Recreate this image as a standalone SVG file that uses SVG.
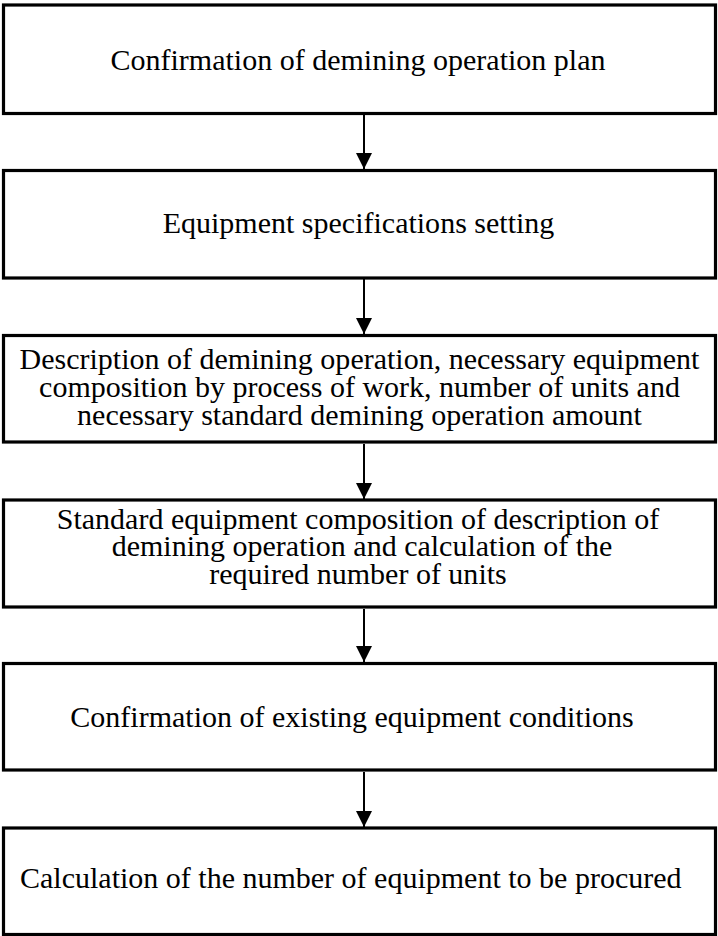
<svg xmlns="http://www.w3.org/2000/svg" width="718" height="936" viewBox="0 0 718 936">
<defs>
<marker id="ah" markerWidth="16" markerHeight="16" viewBox="0 0 16 16" refX="16" refY="8" orient="auto" markerUnits="userSpaceOnUse">
<path d="M0,0 L16,8 L0,16 Z" fill="#000"/>
</marker>
<style>
.box{fill:#fff;stroke:#000;stroke-width:3.2}
.t{font-family:"Liberation Serif","Times New Roman",serif;font-size:29px;fill:#000;text-anchor:middle}
.c{stroke:#000;stroke-width:2;fill:none}
</style>
</defs>
<rect width="718" height="936" fill="#fff"/>
<g id="connectors">
<line class="c" x1="364" y1="115" x2="364" y2="169" marker-end="url(#ah)"/>
<line class="c" x1="364" y1="279" x2="364" y2="334" marker-end="url(#ah)"/>
<line class="c" x1="364" y1="444" x2="364" y2="499" marker-end="url(#ah)"/>
<line class="c" x1="364" y1="609" x2="364" y2="662" marker-end="url(#ah)"/>
<line class="c" x1="364" y1="772" x2="364" y2="827" marker-end="url(#ah)"/>
</g>
<g id="n1">
<rect class="box" x="3.5" y="5" width="712" height="108.5"/>
<text class="t" transform="translate(358,70) scale(1.035,1)" x="0" y="0">Confirmation of demining operation plan</text>
</g>
<g id="n2">
<rect class="box" x="3.5" y="170.5" width="712" height="107.5"/>
<text class="t" transform="translate(358.5,233) scale(1.035,1)" x="0" y="0">Equipment specifications setting</text>
</g>
<g id="n3">
<rect class="box" x="3.5" y="335.5" width="712" height="106.5"/>
<text class="t" transform="translate(359.5,369) scale(1.035,1)" y="0"><tspan x="0">Description of demining operation, necessary equipment</tspan><tspan x="0" dy="28">composition by process of work, number of units and</tspan><tspan x="0" dy="28">necessary standard demining operation amount</tspan></text>
</g>
<g id="n4">
<rect class="box" x="3.5" y="500" width="712" height="107"/>
<text class="t" transform="translate(358,529) scale(1.035,1)" y="0"><tspan x="0">Standard equipment composition of description of</tspan><tspan x="3.9" dy="27.5">demining operation and calculation of the</tspan><tspan x="0" dy="27.5">required number of units</tspan></text>
</g>
<g id="n5">
<rect class="box" x="3.5" y="663.5" width="712" height="106.5"/>
<text class="t" transform="translate(352,727) scale(1.035,1)" x="0" y="0">Confirmation of existing equipment conditions</text>
</g>
<g id="n6">
<rect class="box" x="3.5" y="828" width="712" height="106.5"/>
<text class="t" transform="translate(20,888) scale(1.035,1)" x="0" y="0" style="text-anchor:start">Calculation of the number of equipment to be procured</text>
</g>
</svg>
